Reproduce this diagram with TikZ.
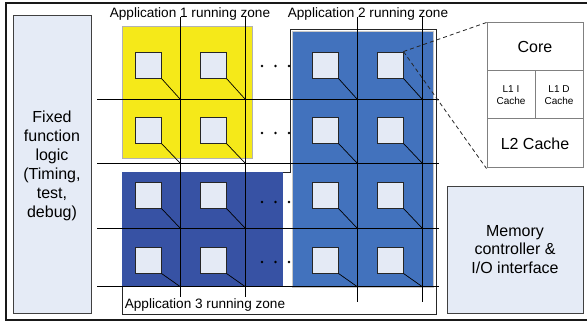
\documentclass[tikz,border=0pt]{standalone}
\usepackage{fontspec}
\setmainfont{Liberation Sans}
\definecolor{zoneyellow}{RGB}{245,233,25}
\definecolor{zoneblue}{RGB}{66,114,189}
\definecolor{zonedark}{RGB}{55,82,164}
\definecolor{tilefill}{RGB}{228,234,245}
\definecolor{boxfill}{RGB}{229,235,246}
\begin{document}
\begin{tikzpicture}[x=1pt,y=-1pt,
  tile/.style={draw=black!85,fill=tilefill,line width=0.9pt,minimum size=26pt,inner sep=0pt},
  sidebox/.style={draw=black!75,fill=boxfill,line width=0.9pt,align=center,inner sep=0pt},
  detail/.style={draw=black!50,fill=white,line width=1pt,inner sep=0pt,align=center},
  gridline/.style={black,line width=0.7pt},
  diag/.style={black,line width=0.7pt},
  zonelabel/.style={font=\fontsize{13.6}{16}\selectfont,inner sep=0pt,anchor=base},
  bigtext/.style={font=\fontsize{16}{19}\selectfont},
  smalltext/.style={font=\fontsize{10}{11.7}\selectfont},
  dotmark/.style={circle,fill=black,inner sep=0pt,minimum size=2.6pt}]
\useasboundingbox (0,0) rectangle (587,323);
% outer frame
\draw[line width=2.6pt,black!90] (6,3) rectangle (595,320);
% fixed function logic
\node[sidebox,minimum width=78pt,minimum height=298pt] (ffl) at (52,164) {};
\node[bigtext,align=center,inner sep=0pt] (ffltext) at (52,165.5) {Fixed\\function\\logic\\(Timing,\\test,\\debug)};
% memory controller
\node[sidebox,minimum width=136pt,minimum height=127pt,font=\fontsize{16}{18.7}\selectfont] (mem) at (515,249.5) {Memory\\controller \&\\I/O interface};
% zones
\fill[zoneyellow,draw=black!30,line width=0.6pt] (122,26) rectangle (252,158);
\draw[draw=black!85,fill=white,line width=0.9pt] (290,29) -- (436,29) -- (436,314) -- (122,314) -- (122,172) -- (290,172) -- cycle;
\fill[zonedark] (122.4,172.4) rectangle (283,287);
\filldraw[fill=zoneblue,draw=black!22,line width=1.5pt] (292.5,31.5) rectangle (433.5,287);
% labels
\node[zonelabel] (lab1) at (190,17.5) {Application 1 running zone};
\node[zonelabel] (lab2) at (368,17.5) {Application 2 running zone};
\node[zonelabel] (lab3) at (205,309) {Application 3 running zone};
% grid lines
\foreach \gx/\yb in {180/297,245/297,357/302,422/302}
  \draw[gridline] (\gx,17) -- (\gx,\yb);
\foreach \gy in {99,163,228,286.5}
  \draw[gridline] (97,\gy) -- (439,\gy);
% tiles and connectors
\foreach \c/\cx/\gx in {1/148/180,2/213/245,3/325/357,4/390/422}{
  \foreach \r/\cy/\gy in {1/65/99,2/130/163,3/195/228,4/260/286.5}{
    \node[tile] (t\r\c) at (\cx,\cy) {};
    \coordinate (g\r\c) at (\gx,\gy);
    \draw[diag] (t\r\c.south east) -- (g\r\c);
  }
}
% ellipsis dots
\foreach \r/\dy in {1/66,2/133,3/202,4/262}{
  \node[dotmark] (d\r a) at (262,\dy) {};
  \node[dotmark] (d\r b) at (275.5,\dy) {};
  \node[dotmark] (d\r c) at (289,\dy) {};
}
% detail of a tile
\node[detail,minimum width=96pt,minimum height=48pt,bigtext] (core) at (535,47) {Core};
\node[detail,minimum width=48pt,minimum height=48pt,smalltext] (l1i) at (511,95) {L1 I\\Cache};
\node[detail,minimum width=48pt,minimum height=48pt,smalltext] (l1d) at (559,95) {L1 D\\Cache};
\node[detail,minimum width=96pt,minimum height=49pt,bigtext] (l2) at (535,143.5) {L2 Cache};
\draw[black!85,line width=0.8pt,dash pattern=on 4pt off 3pt] (t14.north east) -- (core.north west);
\draw[black!85,line width=0.8pt,dash pattern=on 4pt off 3pt] (t14.north east) -- (l2.south west);
\end{tikzpicture}
\end{document}
